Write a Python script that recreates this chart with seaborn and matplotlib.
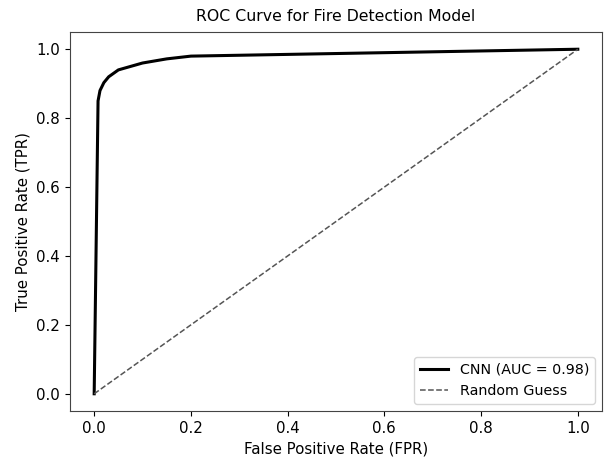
import matplotlib
matplotlib.use("Agg")
import matplotlib.pyplot as plt
import seaborn as sns
import pandas as pd

fpr = [0.0, 0.008, 0.012, 0.02, 0.03, 0.05, 0.10, 0.15, 0.20, 0.40, 0.60, 0.80, 1.0]
tpr = [0.0, 0.85, 0.88, 0.903, 0.92, 0.94, 0.96, 0.972, 0.98, 0.985, 0.99, 0.995, 1.0]
diag = [0.0, 1.0]
title = "ROC Curve for Fire Detection Model"

fig = plt.figure(figsize=(6.05, 4.57), dpi=100)
ax = fig.add_axes([70/605, 1-411/457, 532/605, 379/457])

roc = pd.DataFrame({"fpr": fpr, "tpr": tpr})
sns.lineplot(data=roc, x="fpr", y="tpr", ax=ax, color="black", linewidth=2.2,
             label="CNN (AUC = 0.98)", sort=False)
sns.lineplot(x=diag, y=diag, ax=ax, color="#555555", linestyle="--", linewidth=1.1,
             label="Random Guess")
ax.set_title(title, fontsize=11.3, pad=8)
ax.set_xlabel("False Positive Rate (FPR)", fontsize=10.8)
ax.set_ylabel("True Positive Rate (TPR)", fontsize=10.8)
ax.tick_params(labelsize=10.8, length=3.8)
ax.legend(loc="lower right", fontsize=10.3)
for s in ax.spines.values():
    s.set_color("#444444")
fig.savefig("out.png", dpi=100)
